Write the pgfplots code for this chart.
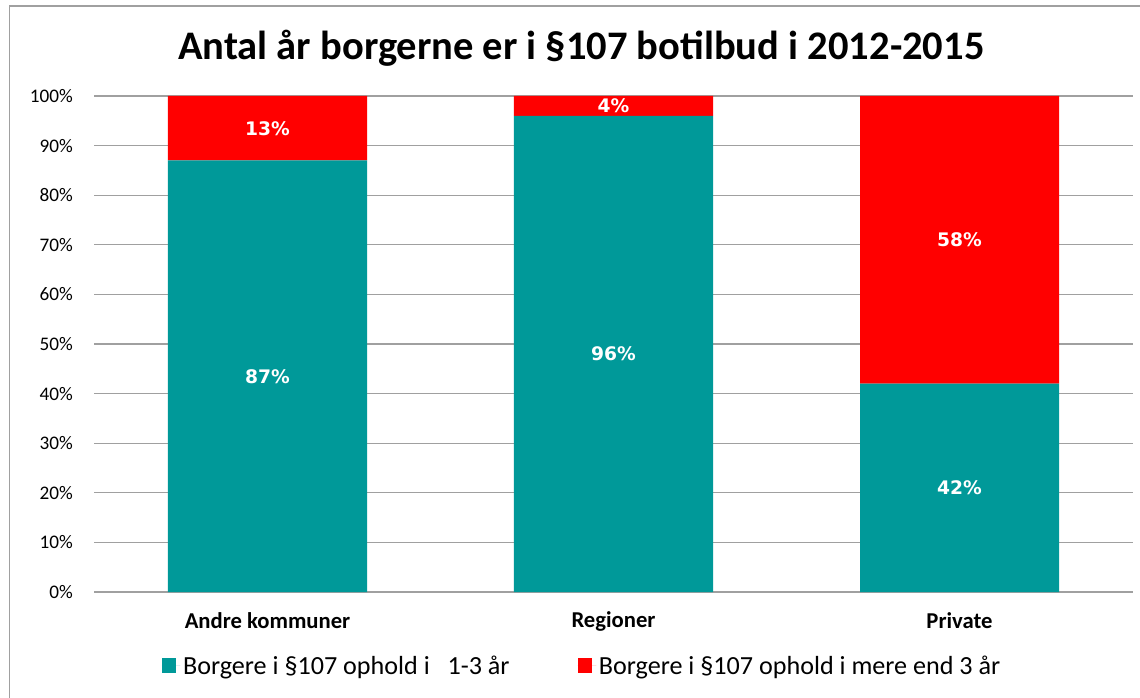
\documentclass[border=0pt]{standalone}
\usepackage{fontspec}
\setmainfont{Carlito}
\newfontfamily\dejavu{DejaVu Sans}
\usepackage{pgfplots}
\usepackage{pgfplotstable}
\pgfplotsset{compat=1.18}
\definecolor{tealbar}{HTML}{009999}
\definecolor{redbar}{HTML}{FF0000}
\definecolor{gridgray}{HTML}{A0A0A0}

% x: 0 Andre kommuner, 1 Regioner, 2 Private
\pgfplotstableread{
x  kort lang
0  87   13
1  96   4
2  42   58
}\ophold

% label positions (middle of each segment) and texts
\pgfplotstableread{
x  y     lbl
0  43.5  87\%
1  48    96\%
2  21    42\%
0  93.5  13\%
1  98    4\%
2  71    58\%
}\etiketter

\pgfplotsset{
  fastramme/.style={
    at={(70.875pt,-444pt)}, anchor=south west,
    scale only axis,
    width=778.5pt, height=372pt,
    xmin=-0.5, xmax=2.5,
    ymin=0, ymax=100,
  }
}

\begin{document}
\begin{tikzpicture}
\useasboundingbox (0pt,0pt) rectangle (855pt,-523.5pt);
\draw[gridgray, line width=1pt] (7.1pt,-523.5pt) -- (7.1pt,-4.5pt) -- (855pt,-4.5pt);
\node[font=\fontsize{30.4}{33}\selectfont\bfseries] at (436pt,-36pt) {Antal år borgerne er i §107 botilbud i 2012-2015};
\begin{axis}[
  fastramme,
  ybar stacked,
  bar width=149.25pt,
  xtick={0,1,2},
  xticklabels={Andre kommuner,Regioner,Private},
  ytick={0,10,...,100},
  yticklabel={\pgfmathprintnumber{\tick}\%},
  /pgf/number format/assume math mode=true,
  axis line style={draw=none},
  major tick style={draw=none},
  ymajorgrids=true,
  grid style={draw=gridgray, line width=0.9pt},
  xticklabel style={font=\bfseries\fontsize{17}{19}\selectfont, anchor=center, yshift=-21.75pt, inner sep=0pt},
  yticklabel style={font=\fontsize{14.4}{16}\selectfont, anchor=east, inner sep=0pt, xshift=-16pt},
  legend style={at={(0.470,-0.149)}, anchor=center, draw=none, fill=none,
    font=\fontsize{19.6}{21}\selectfont, legend columns=2,
    /tikz/every even column/.append style={column sep=49pt}},
  legend image code/.code={\path (0pt,0pt) -- (14pt,0pt);\fill[#1] (0pt,-5.6pt) rectangle (10.5pt,5.6pt);},
]
\addplot[fill=tealbar, draw=none] table[x=x, y=kort] {\ophold};
\addlegendentry{Borgere i §107 ophold i \ \ 1-3 år}
\addplot[fill=redbar, draw=none] table[x=x, y=lang] {\ophold};
\addlegendentry{Borgere i §107 ophold i mere end 3 år}
\end{axis}
\begin{axis}[
  fastramme,
  hide axis,
]
\addplot[only marks, mark=none, point meta=explicit symbolic,
  nodes near coords,
  every node near coord/.append style={font=\dejavu\bfseries\fontsize{14}{16}\selectfont, text=white, anchor=center}]
  table[x=x, y=y, meta=lbl] {\etiketter};
\end{axis}
\end{tikzpicture}
\end{document}
